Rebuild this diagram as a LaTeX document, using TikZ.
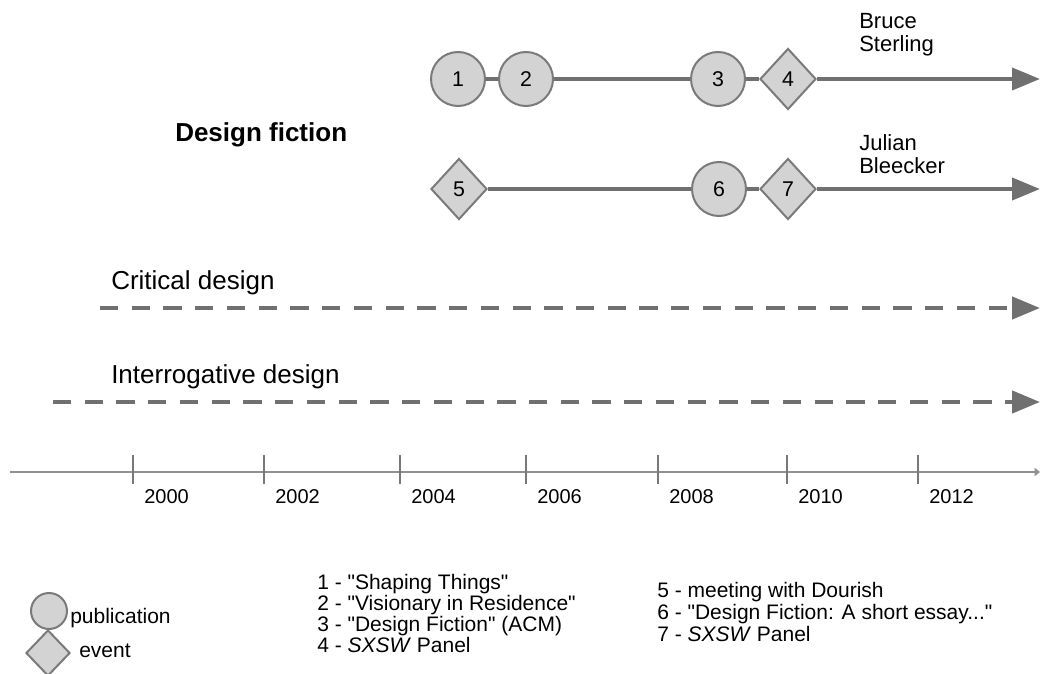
\documentclass[tikz,border=0pt]{standalone}
\usepackage{fontspec}
% a family without TeX ligatures, so that " stays a straight quote
\newfontfamily\lsans{Liberation Sans}
\setmainfont{Liberation Sans}
\usetikzlibrary{arrows.meta,shapes.geometric}

\definecolor{markfill}{RGB}{211,211,211}
\definecolor{markline}{RGB}{122,122,122}
\definecolor{trackline}{RGB}{112,112,112}
\definecolor{axisline}{RGB}{145,145,145}
\definecolor{tickline}{RGB}{120,120,120}

\begin{document}
\begin{tikzpicture}[x=0.75pt,y=-0.75pt,
  pub/.style={circle,draw=markline,fill=markfill,line width=1.5pt,
    minimum size=40.5pt,inner sep=0pt,font=\lsans\fontsize{16}{18}\selectfont},
  evt/.style={diamond,draw=markline,fill=markfill,line width=1.5pt,
    minimum width=42pt,minimum height=45.75pt,inner sep=0pt,
    font=\lsans\fontsize{16}{18}\selectfont},
  legpub/.style={pub,minimum size=27pt},
  legevt/.style={evt,minimum width=33pt,minimum height=34.5pt},
  track/.style={draw=trackline,line width=3pt},
  bigtip/.style={-{Triangle[length=21pt,width=16.5pt]}},
  dashtrack/.style={draw=trackline,line width=3.4pt,
    dash pattern=on 13.7pt off 10.1pt},
  axis/.style={draw=axisline,line width=2.2pt,-{Triangle[length=4pt,width=6pt]}},
  tick/.style={draw=tickline,line width=1.1pt},
  txt/.style={anchor=base west,inner sep=0pt,font=\lsans\fontsize{15.75}{18}\selectfont},
  persontxt/.style={anchor=base west,inner sep=0pt,font=\lsans\fontsize{16.5}{18}\selectfont},
  year/.style={anchor=base west,inner sep=0pt,font=\lsans\fontsize{15}{18}\selectfont},
  heading/.style={anchor=base west,inner sep=0pt,font=\lsans\fontsize{19.5}{23}\selectfont},
]
\useasboundingbox (0,0) rectangle (1040,674);
\clip (0,0) rectangle (1040,674);

% ---- Bruce Sterling track
\node[pub] (c1) at (458,79) {1};
\node[pub] (c2) at (526,79) {2};
\node[pub] (c3) at (718,79) {3};
\node[evt] (d4) at (788,79) {4};
\coordinate (e1) at (1040,79);
\draw[track] (c1) -- (c2);
\draw[track] (c2) -- (c3);
\draw[track] (c3) -- (d4);
\draw[track,bigtip] (d4) -- (e1);
\node[persontxt] (bruce) at (859,29) {Bruce};
\node[persontxt] (sterling) at (859,52) {Sterling};

% ---- Julian Bleecker track
\node[evt] (d5) at (459,189) {5};
\node[pub] (c6) at (719,189) {6};
\node[evt] (d7) at (788,189) {7};
\coordinate (e2) at (1040,189);
\draw[track] (d5) -- (c6);
\draw[track] (c6) -- (d7);
\draw[track,bigtip] (d7) -- (e2);
\node[persontxt] (julian) at (859,151) {Julian};
\node[persontxt] (bleecker) at (859,174) {Bleecker};

\node[heading,font=\lsans\fontsize{19.5}{23}\selectfont\bfseries] (df) at (175,142) {Design fiction};

% ---- long-running practices
\node[heading] (crit) at (111,289) {Critical design};
\coordinate (crits) at (100,308);
\coordinate (crite) at (1040,308);
\draw[dashtrack,bigtip] (crits) -- (crite);

\node[heading] (inter) at (111,383) {Interrogative design};
\coordinate (inters) at (53,402);
\coordinate (intere) at (1040,402);
\draw[dashtrack,bigtip] (inters) -- (intere);

% ---- time axis
\coordinate (ax0) at (10,472);
\coordinate (ax1) at (1040,472);
\draw[axis] (ax0) -- (ax1);
\foreach \x/\yr in {133/2000,264/2002,400/2004,526/2006,658/2008,787/2010,918/2012}{
  \coordinate (t\yr a) at (\x,455);
  \coordinate (t\yr b) at (\x,484);
  \draw[tick] (t\yr a) -- (t\yr b);
  \node[year] (y\yr) at (\x+11,503) {\yr};
}

% ---- legend
\node[legpub] (lp) at (49,611) {};
\node[txt] (lpt) at (70,623) {publication};
\node[legevt] (le) at (48,653) {};
\node[txt] (let) at (79,657) {event};

\node[txt] (n1) at (317,589) {1 - "Shaping Things"};
\node[txt] (n2) at (317,610) {2 - "Visionary in Residence"};
\node[txt] (n3) at (317,631) {3 - "Design Fiction" (ACM)};
\node[txt] (n4) at (317,652) {4 - \textit{SXSW} Panel};

\node[txt] (n5) at (657,597) {5 - meeting with Dourish};
\node[txt] (n6) at (657,619) {6 - "Design Fiction: A short essay..."};
\node[txt] (n7) at (657,641) {7 - \textit{SXSW} Panel};
\end{tikzpicture}
\end{document}
